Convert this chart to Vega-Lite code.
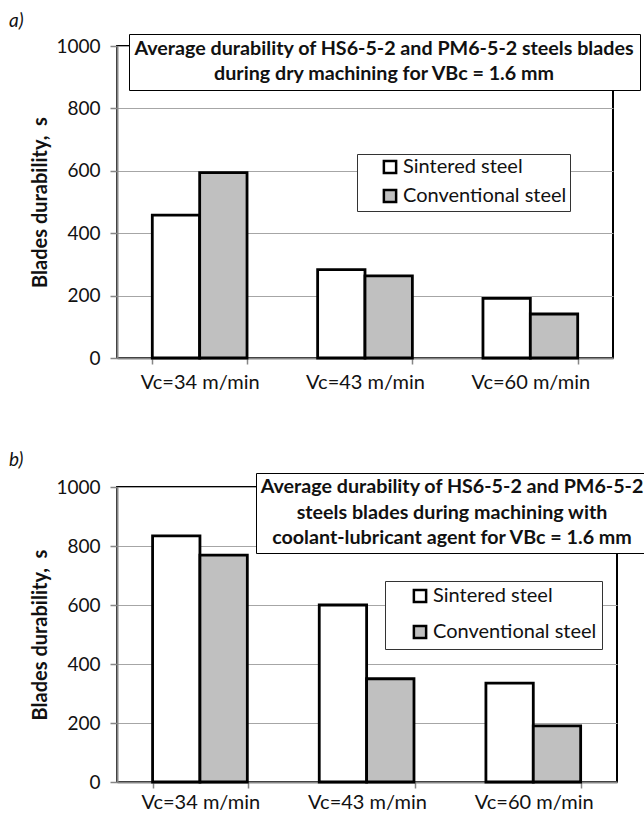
{
  "$schema": "https://vega.github.io/schema/vega-lite/v6.json",
  "background": "white",
  "padding": {"left": 7, "top": 10, "right": 0, "bottom": 0},
  "spacing": 56,
  "config": {
    "font": "Lato",
    "view": {"stroke": "black", "strokeWidth": 2},
    "axisY": {
      "domainColor": "#868686", "domainWidth": 2,
      "tickColor": "#868686", "tickSize": 7, "tickWidth": 1.5,
      "gridColor": "#a6a6a6", "gridWidth": 1.2,
      "labelFontSize": 19, "labelPadding": 10, "labelColor": "#111", "format": "d",
      "titleFontSize": 20, "titleFontWeight": "bold", "titleColor": "#111", "titlePadding": 5
    },
    "axisX": {
      "domainColor": "#868686", "domainWidth": 2,
      "tickColor": "#868686", "tickSize": 6, "tickWidth": 1.5, "tickBand": "extent",
      "labelFontSize": 20, "labelPadding": 8, "labelColor": "#111", "labelAngle": 0,
      "grid": false
    },
    "legend": {"labelColor": "#111", "titleColor": "#111", "labelLimit": 400}
  },
  "datasets": {
    "dry": [
      {"speed": "Vc=34 m/min", "steel": "Sintered steel", "durability": 458},
      {"speed": "Vc=34 m/min", "steel": "Conventional steel", "durability": 594},
      {"speed": "Vc=43 m/min", "steel": "Sintered steel", "durability": 283},
      {"speed": "Vc=43 m/min", "steel": "Conventional steel", "durability": 263},
      {"speed": "Vc=60 m/min", "steel": "Sintered steel", "durability": 191},
      {"speed": "Vc=60 m/min", "steel": "Conventional steel", "durability": 141}
    ],
    "coolant": [
      {"speed": "Vc=34 m/min", "steel": "Sintered steel", "durability": 834},
      {"speed": "Vc=34 m/min", "steel": "Conventional steel", "durability": 769},
      {"speed": "Vc=43 m/min", "steel": "Sintered steel", "durability": 600},
      {"speed": "Vc=43 m/min", "steel": "Conventional steel", "durability": 350},
      {"speed": "Vc=60 m/min", "steel": "Sintered steel", "durability": 335},
      {"speed": "Vc=60 m/min", "steel": "Conventional steel", "durability": 190}
    ]
  },
  "vconcat": [
    {
      "title": {"text": "a)", "anchor": "start", "fontSize": 19, "fontStyle": "italic", "fontWeight": "normal", "color": "#111", "offset": 3, "dx": -22},
      "width": 496,
      "height": 312,
      "data": {"name": "dry"},
      "mark": {"type": "bar", "stroke": "black", "strokeWidth": 2.8},
      "encoding": {
        "x": {"field": "speed", "type": "nominal", "sort": ["Vc=34 m/min", "Vc=43 m/min", "Vc=60 m/min"], "scale": {"paddingInner": 0.427, "paddingOuter": 0.2135}, "axis": {"title": null}},
        "xOffset": {"field": "steel", "type": "nominal", "sort": ["Sintered steel", "Conventional steel"], "scale": {"paddingInner": 0, "paddingOuter": 0}},
        "y": {"field": "durability", "type": "quantitative", "scale": {"domain": [0, 1000]}, "axis": {"values": [0, 200, 400, 600, 800, 1000], "title": "Blades durability,\u00a0\u00a0s"}},
        "fill": {
          "field": "steel", "type": "nominal",
          "scale": {"domain": ["Sintered steel", "Conventional steel"], "range": ["#ffffff", "#c0c0c0"]},
          "legend": {"title": null, "orient": "none", "legendX": 240, "legendY": 108, "padding": 3, "symbolOffset": 20, "symbolType": "square", "symbolSize": 150, "symbolStrokeColor": "black", "symbolStrokeWidth": 2.5, "labelFontSize": 20, "labelOffset": 3, "rowPadding": 5, "strokeColor": "#333", "fillColor": "white", "labelExpr": "datum.label + '\u00a0\u00a0\u00a0\u00a0\u00a0'"}
        },
        "opacity": {
          "datum": "dry", "type": "ordinal",
          "scale": {"range": [1, 1]},
          "legend": {"title": ["Average durability of HS6-5-2 and PM6-5-2 steels blades", "during dry machining for VBc = 1.6 mm"], "orient": "none", "legendX": 12, "legendY": -12, "padding": 5, "titleFontSize": 19.7, "titleFontWeight": "bold", "titleAlign": "center", "titleAnchor": "middle", "titleLineHeight": 25, "titleLimit": 1000, "titlePadding": 0, "symbolSize": 0, "symbolOpacity": 0, "symbolStrokeWidth": 0, "labelExpr": "''", "labelFontSize": 1, "strokeColor": "black", "fillColor": "white"}
        }
      }
    },
    {
      "title": {"text": "b)", "anchor": "start", "fontSize": 19, "fontStyle": "italic", "fontWeight": "normal", "color": "#111", "offset": 3, "dx": -22},
      "width": 500,
      "height": 295,
      "data": {"name": "coolant"},
      "mark": {"type": "bar", "stroke": "black", "strokeWidth": 2.8},
      "encoding": {
        "x": {"field": "speed", "type": "nominal", "sort": ["Vc=34 m/min", "Vc=43 m/min", "Vc=60 m/min"], "scale": {"paddingInner": 0.427, "paddingOuter": 0.2135}, "axis": {"title": null, "labelPadding": 4}},
        "xOffset": {"field": "steel", "type": "nominal", "sort": ["Sintered steel", "Conventional steel"], "scale": {"paddingInner": 0, "paddingOuter": 0}},
        "y": {"field": "durability", "type": "quantitative", "scale": {"domain": [0, 1000]}, "axis": {"values": [0, 200, 400, 600, 800, 1000], "title": "Blades durability,\u00a0\u00a0s"}},
        "fill": {
          "field": "steel", "type": "nominal",
          "scale": {"domain": ["Sintered steel", "Conventional steel"], "range": ["#ffffff", "#c0c0c0"]},
          "legend": {"title": null, "orient": "none", "legendX": 268, "legendY": 94, "padding": 5, "symbolOffset": 20, "symbolType": "square", "symbolSize": 150, "symbolStrokeColor": "black", "symbolStrokeWidth": 2.5, "labelFontSize": 20, "labelOffset": 3, "rowPadding": 12, "strokeColor": "#333", "fillColor": "white", "labelExpr": "datum.label + '\u00a0\u00a0\u00a0\u00a0\u00a0'"}
        },
        "opacity": {
          "datum": "coolant", "type": "ordinal",
          "scale": {"range": [1, 1]},
          "legend": {"title": ["Average durability of HS6-5-2 and PM6-5-2", "steels blades during machining with", "coolant-lubricant agent for VBc = 1.6 mm"], "orient": "none", "legendX": 139, "legendY": -14, "padding": 4, "titleFontSize": 19.7, "titleFontWeight": "bold", "titleAlign": "center", "titleAnchor": "middle", "titleLineHeight": 25.5, "titleLimit": 1000, "titlePadding": 0, "symbolSize": 0, "symbolOpacity": 0, "symbolStrokeWidth": 0, "labelExpr": "''", "labelFontSize": 1, "strokeColor": "black", "fillColor": "white"}
        }
      }
    }
  ],
  "resolve": {"scale": {"fill": "independent", "opacity": "independent"}, "legend": {"fill": "independent", "opacity": "independent"}}
}
